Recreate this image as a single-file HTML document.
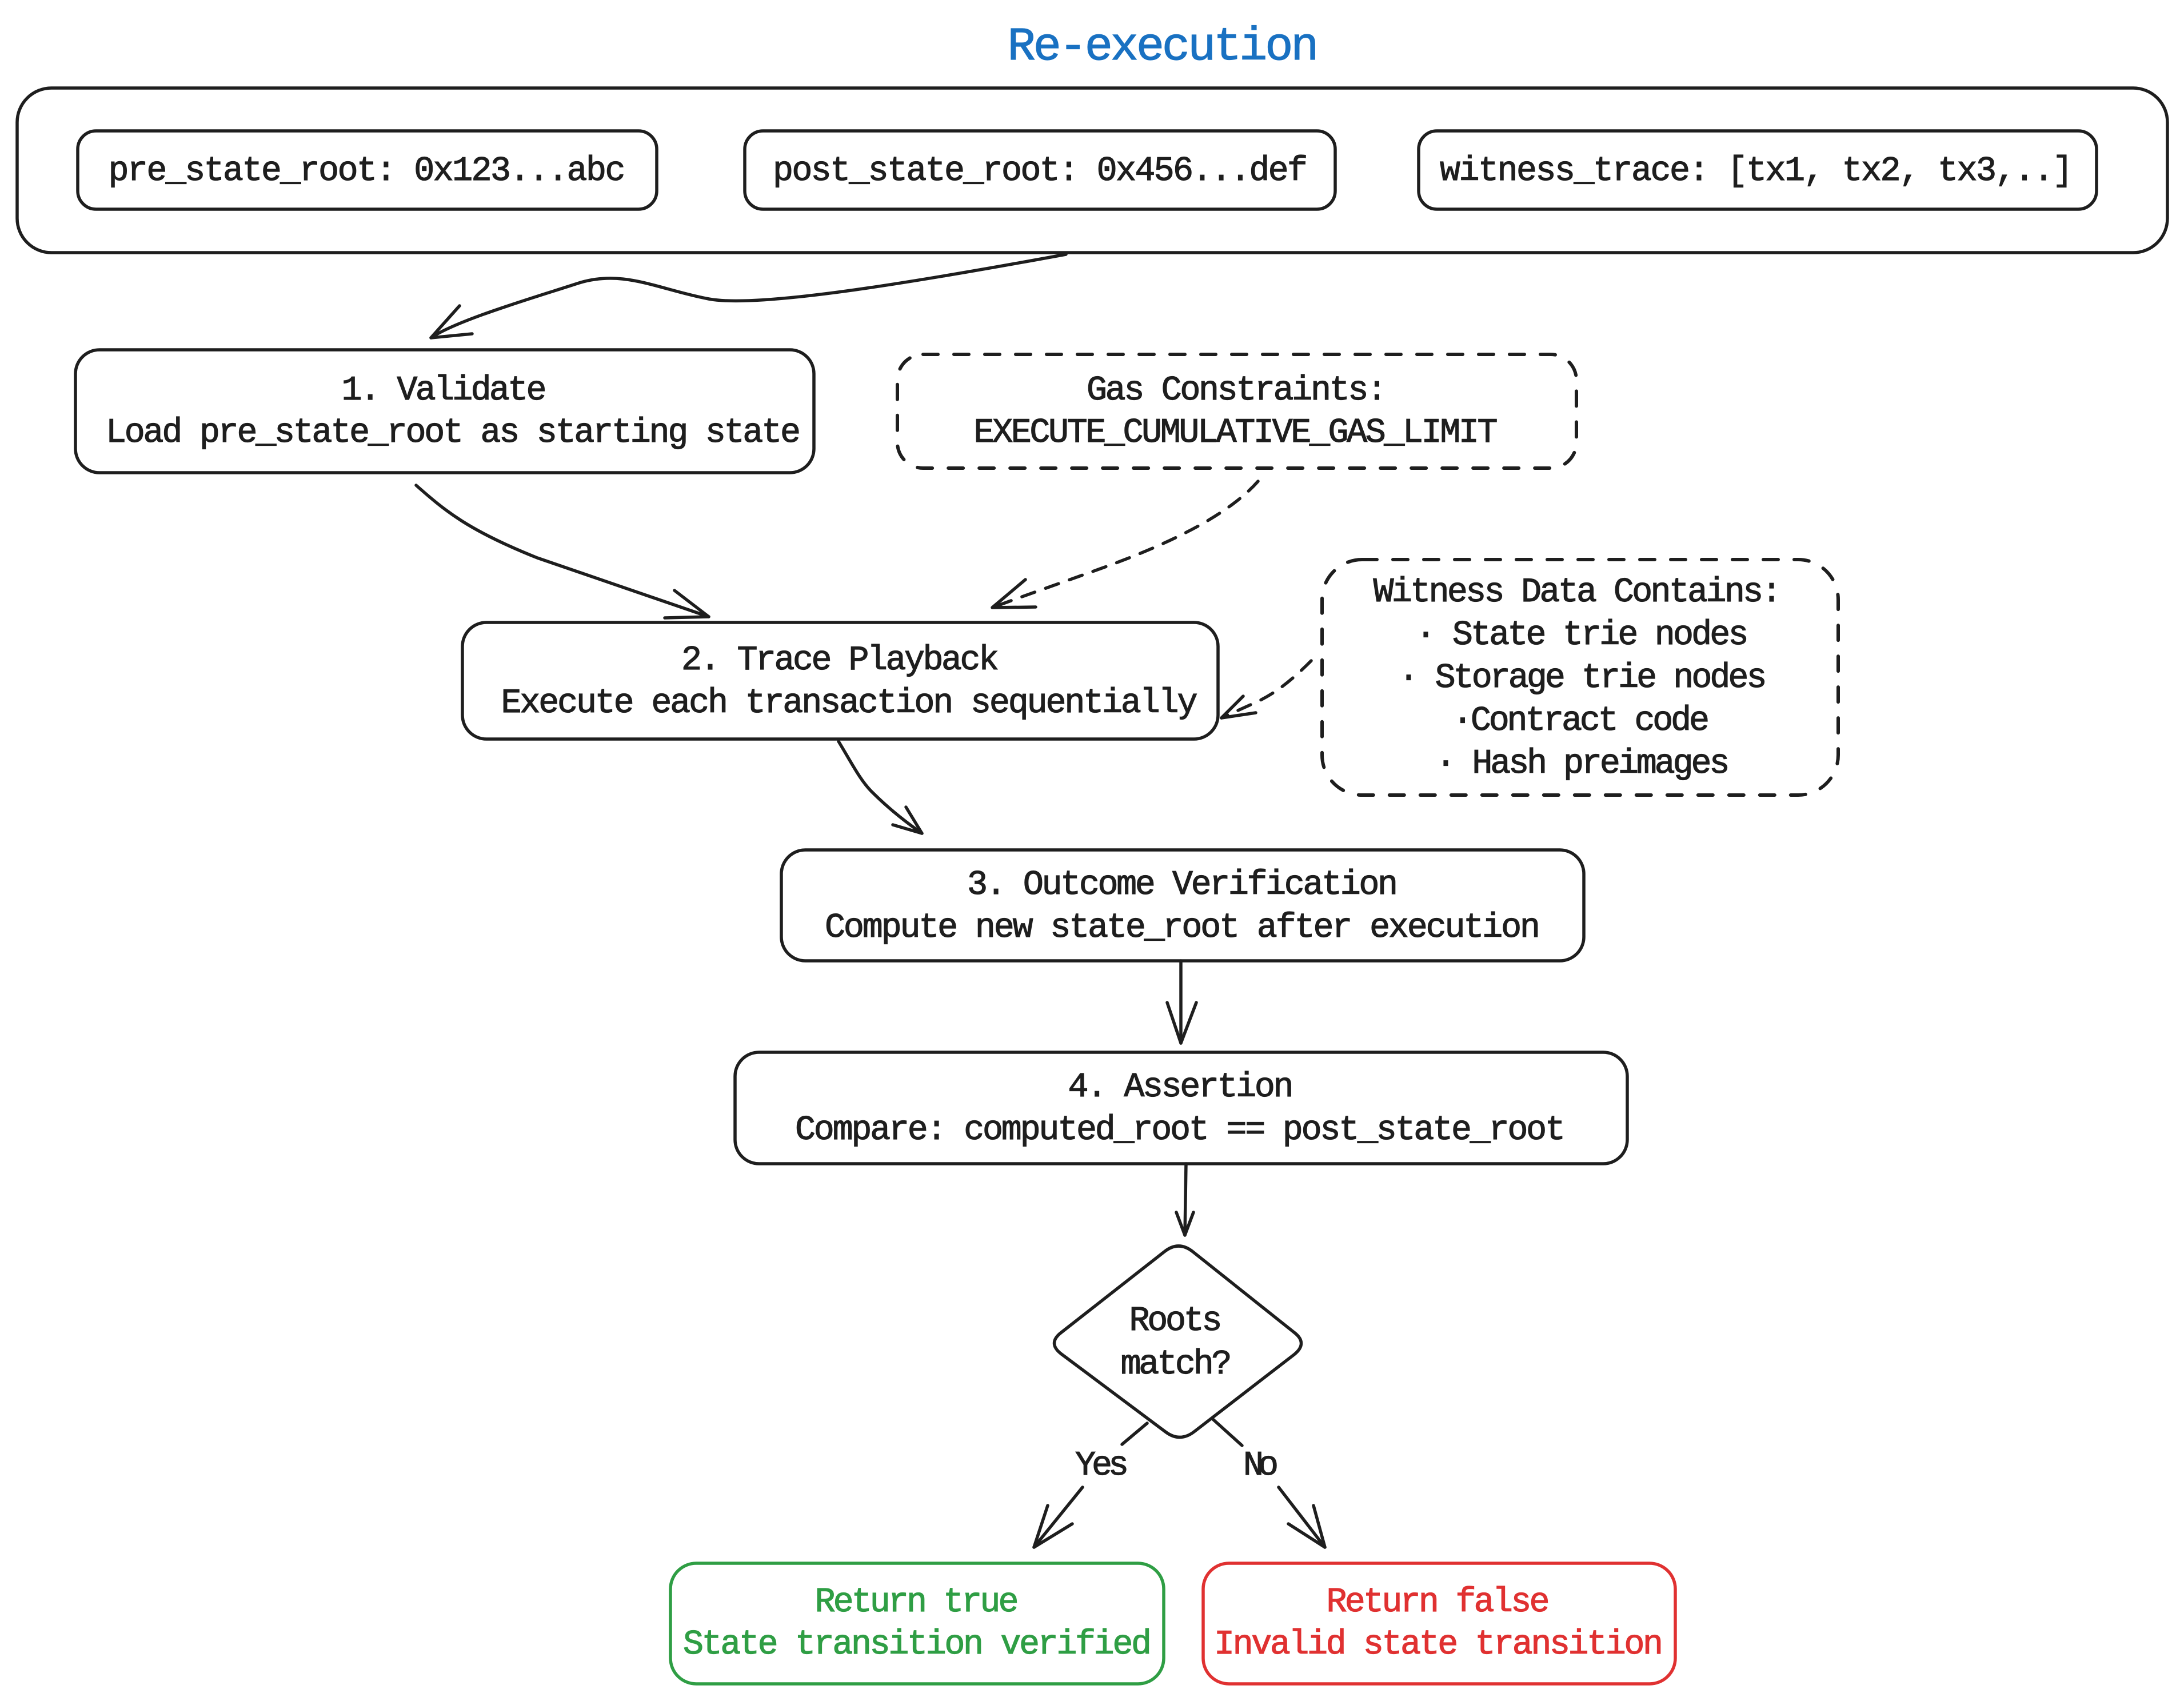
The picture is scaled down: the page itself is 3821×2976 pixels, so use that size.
<!DOCTYPE html>
<html><head><meta charset="utf-8"><style>
html,body{margin:0;padding:0;background:#fff;}
svg{display:block;}
text{font-family:"Liberation Mono","DejaVu Sans Mono",monospace;font-size:60px;fill:#1e1e1e;stroke:#1e1e1e;stroke-width:1.2px;}
</style></head><body>
<svg width="3821" height="2976" viewBox="0 0 3821 2976" xmlns="http://www.w3.org/2000/svg">
<rect width="3821" height="2976" fill="#fff"/>
<text x="2035" y="104" text-anchor="middle" style="fill:#1971c2;stroke:#1971c2;font-size:82px" textLength="545" lengthAdjust="spacing">Re-execution</text>

<g fill="none" stroke="#1e1e1e" stroke-width="5.5" stroke-linecap="round" stroke-linejoin="round">
<rect x="30" y="154" width="3762" height="288" rx="60"/>
<rect x="136" y="229" width="1013" height="137" rx="32"/>
<rect x="1303" y="229" width="1033" height="137" rx="32"/>
<rect x="2482" y="229" width="1186" height="137" rx="32"/>
<rect x="132" y="612" width="1292" height="215" rx="42"/>
<rect x="809" y="1089" width="1322" height="204" rx="42"/>
<rect x="1367" y="1487" width="1404" height="194" rx="42"/>
<rect x="1286" y="1841" width="1561" height="195" rx="42"/>
<path d="M2087,2190 L2264,2331 Q2289,2350 2264,2370 L2089,2505 Q2064,2524 2039,2505 L1857,2369 Q1832,2350 1857,2331 L2037,2190 Q2062,2170 2087,2190 Z"/>
<rect x="1173" y="2735" width="863" height="211" rx="45" stroke="#2f9e44"/>
<rect x="2105" y="2735" width="826" height="211" rx="45" stroke="#e03131"/>
</g>

<g fill="none" stroke="#1e1e1e" stroke-width="6" stroke-linecap="round" stroke-dasharray="26 28">
<rect x="1570" y="620" width="1188" height="199" rx="45"/>
<rect x="2313" y="979" width="903" height="412" rx="70"/>
</g>

<g fill="none" stroke="#1e1e1e" stroke-width="5.5" stroke-linecap="round" stroke-linejoin="round">
<path d="M1865,445 C1620,490 1330,540 1240,523 C1150,506 1090,470 1010,496 C930,522 800,560 754,591"/>
<polyline points="804,535 754,591 826,584"/>
<path d="M728,849 C780,895 820,928 940,976 L1240,1079"/>
<polyline points="1180,1033 1240,1079 1163,1081"/>
<path d="M1467,1297 C1490,1335 1505,1365 1525,1385 C1550,1410 1580,1435 1613,1458"/>
<polyline points="1585,1412 1613,1458 1562,1443"/>
<path d="M2066,1681 L2066,1825"/>
<polyline points="2042,1754 2066,1825 2093,1754"/>
<path d="M2075,2036 L2073,2161"/>
<polyline points="2058,2121 2073,2161 2088,2121"/>
<path d="M2007,2490 L1963,2527"/>
<path d="M1894,2602 L1809,2707"/>
<polyline points="1833,2634 1809,2707 1876,2666"/>
<path d="M2122,2483 L2173,2529"/>
<path d="M2237,2602 L2318,2707"/>
<polyline points="2298,2634 2318,2707 2254,2666"/>
</g>

<g fill="none" stroke="#1e1e1e" stroke-width="5.5" stroke-linecap="round" stroke-linejoin="round">
<path d="M2201,842 C2150,900 2050,950 1925,995 C1850,1022 1790,1043 1736,1063" stroke-dasharray="24 20"/>
<polyline points="1794,1014 1736,1063 1812,1062"/>
<path d="M2294,1156 C2260,1190 2230,1215 2190,1232 L2137,1256" stroke-dasharray="24 20"/>
<polyline points="2197,1247 2137,1256 2175,1218"/>
</g>

<g text-anchor="middle">
<text x="642" y="315" textLength="905" lengthAdjust="spacing">pre_state_root: 0x123...abc</text>
<text x="1820" y="315" textLength="936" lengthAdjust="spacing">post_state_root: 0x456...def</text>
<text x="3073" y="315" textLength="1108" lengthAdjust="spacing">witness_trace: [tx1, tx2, tx3,..]</text>

<text x="777" y="699" textLength="359" lengthAdjust="spacing">1. Validate</text>
<text x="793" y="773" textLength="1216" lengthAdjust="spacing">Load pre_state_root as starting state</text>

<text x="2164" y="699" textLength="526" lengthAdjust="spacing">Gas Constraints:</text>
<text x="2162" y="773" textLength="917" lengthAdjust="spacing">EXECUTE_CUMULATIVE_GAS_LIMIT</text>

<text x="1470" y="1171" textLength="556" lengthAdjust="spacing">2. Trace Playback</text>
<text x="1486" y="1246" textLength="1219" lengthAdjust="spacing">Execute each transaction sequentially</text>

<text x="2760" y="1052" textLength="715" lengthAdjust="spacing">Witness Data Contains:</text>
<text x="2768" y="1127" textLength="583" lengthAdjust="spacing">· State trie nodes</text>
<text x="2769" y="1202" textLength="645" lengthAdjust="spacing">· Storage trie nodes</text>
<text x="2766" y="1277" textLength="450" lengthAdjust="spacing">·Contract code</text>
<text x="2769" y="1352" textLength="515" lengthAdjust="spacing">· Hash preimages</text>

<text x="2069" y="1564" textLength="754" lengthAdjust="spacing">3. Outcome Verification</text>
<text x="2069" y="1639" textLength="1252" lengthAdjust="spacing">Compute new state_root after execution</text>

<text x="2066" y="1918" textLength="395" lengthAdjust="spacing">4. Assertion</text>
<text x="2065" y="1993" textLength="1348" lengthAdjust="spacing">Compare: computed_root == post_state_root</text>

<text x="2057" y="2327" textLength="163" lengthAdjust="spacing">Roots</text>
<text x="2058" y="2403" textLength="195" lengthAdjust="spacing">match?</text>

<text x="1928" y="2580" textLength="94" lengthAdjust="spacing">Yes</text>
<text x="2206" y="2580" textLength="62" lengthAdjust="spacing">No</text>

<text x="1604" y="2819" textLength="357" lengthAdjust="spacing" style="fill:#2f9e44;stroke:#2f9e44">Return true</text>
<text x="1605" y="2893" textLength="820" lengthAdjust="spacing" style="fill:#2f9e44;stroke:#2f9e44">State transition verified</text>

<text x="2516" y="2819" textLength="391" lengthAdjust="spacing" style="fill:#e03131;stroke:#e03131">Return false</text>
<text x="2517" y="2893" textLength="786" lengthAdjust="spacing" style="fill:#e03131;stroke:#e03131">Invalid state transition</text>
</g>
</svg>
</body></html>
